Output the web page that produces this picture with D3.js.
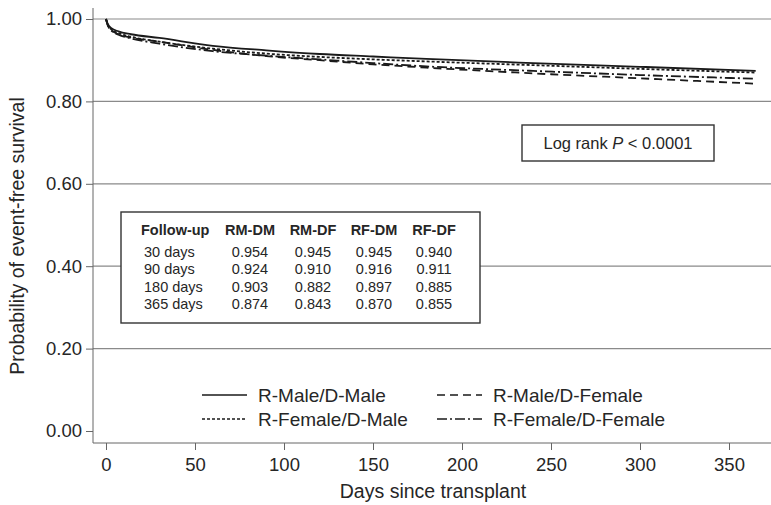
<!DOCTYPE html>
<html>
<head>
<meta charset="utf-8">
<script src="https://cdn.jsdelivr.net/npm/d3@7"></script>
<style>
  body { margin: 0; background: #fff; }
  svg text { font-family: "Liberation Sans", Arial, sans-serif; fill: #262626; }
</style>
</head>
<body>
<div id="chart"></div>
<script>
// survival curves
const days = [0, 1, 3, 7, 14, 30, 60, 90, 120, 150, 180, 240, 300, 365];
const rmdm = [1, 0.988, 0.978, 0.970, 0.963, 0.954, 0.935, 0.924, 0.915, 0.909, 0.903, 0.893, 0.884, 0.874];
const rmdf = [1, 0.985, 0.973, 0.963, 0.955, 0.945, 0.925, 0.910, 0.900, 0.890, 0.882, 0.868, 0.856, 0.843];
const rfdm = [1, 0.986, 0.975, 0.966, 0.957, 0.945, 0.928, 0.916, 0.908, 0.902, 0.897, 0.888, 0.879, 0.870];
const rfdf = [1, 0.985, 0.972, 0.962, 0.953, 0.940, 0.922, 0.911, 0.902, 0.893, 0.885, 0.874, 0.864, 0.855];

const seriesNames = ["R-Male/D-Male", "R-Male/D-Female", "R-Female/D-Male", "R-Female/D-Female"];

// inset table
const tableHead = ["Follow-up", "RM-DM", "RM-DF", "RF-DM", "RF-DF"];
const tableRows = [
  ["30 days", "0.954", "0.945", "0.945", "0.940"],
  ["90 days", "0.924", "0.910", "0.916", "0.911"],
  ["180 days", "0.903", "0.882", "0.897", "0.885"],
  ["365 days", "0.874", "0.843", "0.870", "0.855"]
];

const xTicks = [0, 50, 100, 150, 200, 250, 300, 350];
const yTicks = [0, 0.2, 0.4, 0.6, 0.8, 1.0];

const W = 771, H = 505;
const svg = d3.select("#chart").append("svg").attr("width", W).attr("height", H);

const x = d3.scaleLinear().domain([0, 350]).range([106, 729]);
const y = d3.scaleLinear().domain([0, 1]).range([431, 19]);
const axisX0 = 93, axisY0 = 443;

// gridlines
svg.append("g").selectAll("line")
  .data(yTicks.filter(d => d > 0))
  .join("line")
  .attr("x1", axisX0).attr("x2", W)
  .attr("y1", d => y(d)).attr("y2", d => y(d))
  .attr("stroke", "#8a8a8a").attr("stroke-width", 1.2);

// y axis
const yAxis = svg.append("g")
  .attr("transform", `translate(${axisX0},0)`)
  .call(d3.axisLeft(y).tickValues(yTicks).tickFormat(d3.format(".2f")).tickSize(7).tickPadding(4));
yAxis.select(".domain").attr("d", `M0,8V${axisY0}`);
yAxis.selectAll("line").attr("stroke", "#666");
yAxis.select(".domain").attr("stroke", "#666");
yAxis.selectAll("text").style("font-size", "18.5px").attr("fill", "#262626");

// x axis
const xAxis = svg.append("g")
  .attr("transform", `translate(0,${axisY0})`)
  .call(d3.axisBottom(x).tickValues(xTicks).tickSize(7).tickPadding(8));
xAxis.select(".domain").attr("d", `M${axisX0},0H${W}`);
xAxis.selectAll("line").attr("stroke", "#666");
xAxis.select(".domain").attr("stroke", "#666");
xAxis.selectAll("text").style("font-size", "18.5px").attr("fill", "#262626");

// axis titles
svg.append("text")
  .attr("x", 433).attr("y", 498)
  .attr("text-anchor", "middle")
  .style("font-size", "19.5px")
  .text("Days since transplant");
svg.append("text")
  .attr("transform", "translate(24,236) rotate(-90)")
  .attr("text-anchor", "middle")
  .style("font-size", "19.5px")
  .text("Probability of event-free survival");

// curves
const dashes = [null, "8,5", "3,2", "10,3,2,3"];
const allSeries = [rmdm, rmdf, rfdm, rfdf];
const line = d3.line()
  .x((d, i) => x(days[i]))
  .y(d => y(d))
  .curve(d3.curveMonotoneX);

svg.append("g").selectAll("path")
  .data(allSeries)
  .join("path")
  .attr("d", d => line(d))
  .attr("fill", "none")
  .attr("stroke", "#1a1a1a")
  .attr("stroke-width", 1.8)
  .attr("stroke-dasharray", (d, i) => dashes[i]);

// inset table
const tbl = svg.append("g");
tbl.append("rect")
  .attr("x", 121).attr("y", 212).attr("width", 359).attr("height", 111)
  .attr("fill", "#fff").attr("stroke", "#333").attr("stroke-width", 1.4);
const colX = [141, 250, 313, 374, 434];
tbl.selectAll("text.h")
  .data(tableHead)
  .join("text")
  .attr("class", "h")
  .attr("x", (d, i) => colX[i])
  .attr("y", 235)
  .attr("text-anchor", (d, i) => i === 0 ? "start" : "middle")
  .style("font-size", "14.5px").style("font-weight", "bold")
  .text(d => d);
tableRows.forEach((row, r) => {
  tbl.selectAll(`text.r${r}`)
    .data(row)
    .join("text")
    .attr("class", `r${r}`)
    .attr("x", (d, i) => i === 0 ? 144 : colX[i])
    .attr("y", 257 + r * 17.3)
    .attr("text-anchor", (d, i) => i === 0 ? "start" : "middle")
    .style("font-size", "14.5px")
    .text(d => d);
});

// log rank box
const lr = svg.append("g");
lr.append("rect")
  .attr("x", 522).attr("y", 125).attr("width", 192).attr("height", 36)
  .attr("fill", "#fff").attr("stroke", "#333").attr("stroke-width", 1.4);
const lrText = lr.append("text")
  .attr("x", 618).attr("y", 149)
  .attr("text-anchor", "middle")
  .style("font-size", "16.5px");
lrText.append("tspan").text("Log rank ");
lrText.append("tspan").style("font-style", "italic").text("P");
lrText.append("tspan").text(" < 0.0001");

// legend
const legPos = [[202, 395], [437, 395], [202, 419], [437, 419]];
const leg = svg.append("g").selectAll("g")
  .data(seriesNames)
  .join("g")
  .attr("transform", (d, i) => `translate(${legPos[i][0]},${legPos[i][1]})`);
leg.append("line")
  .attr("x1", 0).attr("x2", 45)
  .attr("stroke", "#1a1a1a").attr("stroke-width", 1.6)
  .attr("stroke-dasharray", (d, i) => dashes[i]);
leg.append("text")
  .attr("x", 56).attr("y", 7)
  .style("font-size", "19px")
  .text(d => d);
</script>
</body>
</html>
